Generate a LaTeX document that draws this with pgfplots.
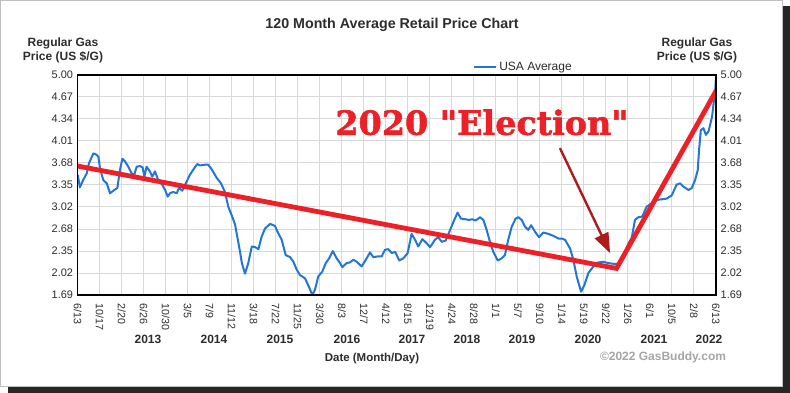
\documentclass[border=0pt]{standalone}
\usepackage{fontspec}
\setmainfont{Liberation Sans}
\newfontfamily\elecfont{DejaVu Serif}[BoldFeatures={FakeBold=1.6}]
\usepackage{pgfplots}
\usepackage{pgfplotstable}
\pgfplotsset{compat=1.18}
\usetikzlibrary{arrows.meta}
\definecolor{gbblue}{RGB}{36,118,212}
\definecolor{gbred}{RGB}{236,32,38}
\definecolor{arrowred}{RGB}{172,28,28}
\definecolor{gridgray}{RGB}{216,216,216}
\definecolor{txt}{RGB}{45,45,45}

\pgfplotstableread{
x y
0.00 3.50
0.10 3.31
0.25 3.42
0.41 3.52
0.51 3.67
0.71 3.82
0.86 3.80
0.94 3.77
1.01 3.60
1.16 3.42
1.32 3.37
1.47 3.22
1.62 3.26
1.80 3.30
1.92 3.57
2.03 3.74
2.15 3.70
2.30 3.62
2.45 3.52
2.57 3.50
2.68 3.62
2.83 3.63
2.95 3.61
3.03 3.47
3.13 3.62
3.28 3.55
3.39 3.47
3.51 3.55
3.66 3.42
3.84 3.35
3.97 3.27
4.09 3.17
4.19 3.22
4.34 3.24
4.50 3.22
4.60 3.30
4.75 3.26
4.91 3.37
5.10 3.50
5.30 3.60
5.43 3.66
5.56 3.64
5.78 3.65
5.93 3.65
6.09 3.58
6.32 3.45
6.51 3.37
6.69 3.24
6.84 3.02
7.02 2.87
7.15 2.75
7.26 2.55
7.37 2.35
7.46 2.17
7.60 2.01
7.75 2.17
7.91 2.42
8.06 2.41
8.21 2.38
8.36 2.57
8.51 2.69
8.74 2.76
8.96 2.73
9.11 2.62
9.27 2.52
9.45 2.29
9.65 2.26
9.80 2.19
9.95 2.07
10.10 1.99
10.33 1.94
10.51 1.81
10.66 1.69
10.78 1.77
10.93 1.97
11.11 2.04
11.27 2.17
11.42 2.24
11.59 2.35
11.77 2.24
11.92 2.17
12.02 2.11
12.22 2.17
12.37 2.18
12.52 2.22
12.68 2.19
12.90 2.12
13.09 2.22
13.28 2.33
13.43 2.26
13.63 2.27
13.81 2.27
13.96 2.37
14.11 2.38
14.27 2.32
14.42 2.34
14.61 2.21
14.79 2.24
14.99 2.32
15.17 2.61
15.33 2.52
15.47 2.42
15.66 2.53
15.82 2.48
16.01 2.41
16.23 2.52
16.38 2.56
16.54 2.49
16.72 2.51
16.92 2.67
17.11 2.82
17.26 2.93
17.41 2.84
17.60 2.83
17.78 2.82
17.93 2.83
18.08 2.81
18.28 2.86
18.43 2.82
18.58 2.67
18.73 2.49
18.88 2.34
19.08 2.21
19.26 2.24
19.41 2.29
19.56 2.52
19.72 2.72
19.90 2.84
20.02 2.86
20.17 2.82
20.32 2.72
20.47 2.67
20.60 2.74
20.78 2.64
20.96 2.56
21.15 2.63
21.38 2.61
21.61 2.58
21.84 2.54
22.00 2.54
22.14 2.52
22.37 2.39
22.52 2.22
22.67 1.97
22.87 1.74
23.02 1.84
23.20 2.02
23.43 2.12
23.65 2.18
23.88 2.19
24.11 2.17
24.33 2.16
24.55 2.16
24.82 2.25
25.00 2.45
25.17 2.55
25.32 2.82
25.47 2.86
25.65 2.87
25.85 3.02
26.08 3.07
26.31 3.12
26.53 3.13
26.76 3.14
26.99 3.19
27.21 3.35
27.37 3.37
27.52 3.32
27.75 3.27
27.90 3.30
28.05 3.42
28.17 3.57
28.23 3.87
28.31 4.17
28.43 4.20
28.54 4.10
28.66 4.15
28.82 4.37
28.89 4.57
28.97 4.80
29.00 4.98
}\gasdata

\pgfplotstableread{
x y
0.00 3.63
24.48 2.09
29.00 4.76
}\trenddata

\pgfplotsset{
  gbaxis/.style={
    at={(58.275pt,73.5pt)}, anchor=south west,
    width=478.725pt, height=165pt, scale only axis,
    xmin=0, xmax=29, ymin=1.69, ymax=5.00,
    ytick={1.69,2.02,2.35,2.68,3.02,3.35,3.68,4.01,4.34,4.67,5.00},
    yticklabels={1.69,2.02,2.35,2.68,3.02,3.35,3.68,4.01,4.34,4.67,5.00},
    major tick length=0pt,
    axis line style={black, line width=0.9pt},
    tick label style={font=\fontsize{8.2}{9}\selectfont, text=txt},
    /pgf/number format/assume math mode=true,
  }
}

\begin{document}
\begin{tikzpicture}
\useasboundingbox (0,0) rectangle (592.5pt,294.75pt);
\begin{scope}[x=0.75pt,y=-0.75pt,shift={(0pt,294.75pt)}]
  \fill[black!85] (8,6) rectangle (790,393);
  \filldraw[fill=white, draw=black!25, line width=0.5pt] (0.5,0.5) rectangle (782,386);
  \node[font=\bfseries\fontsize{10.7}{12}\selectfont, text=txt] at (392,25) {120 Month Average Retail Price Chart};
  \node[align=center, font=\bfseries\fontsize{9}{10.5}\selectfont, text=txt] at (63,50) {Regular Gas\\Price (US \$/G)};
  \node[align=center, font=\bfseries\fontsize{9}{10.5}\selectfont, text=txt] at (697,50) {Regular Gas\\Price (US \$/G)};
  \foreach \px/\yr in {148/2013,214/2014,280/2015,347/2016,412/2017,467/2018,522/2019,588/2020,654/2021,709/2022}
    \node[font=\bfseries\fontsize{9}{10}\selectfont, text=txt] at (\px,339) {\yr};
  \node[font=\bfseries\fontsize{8.6}{10}\selectfont, text=txt] at (372,359) {Date (Month/Day)};
  \node[font=\bfseries\fontsize{9}{10}\selectfont, text=black!35] at (663,357) {\textcopyright 2022 GasBuddy.com};
\end{scope}

\begin{axis}[gbaxis,
  xtick={0,...,29},
  xticklabels={6/13,10/17,2/20,6/26,10/30,3/5,7/9,11/12,3/18,7/22,11/25,3/30,8/3,12/7,4/12,8/15,12/19,4/24,8/28,1/1,5/7,9/10,1/14,5/19,9/22,1/26,6/1,10/5,2/8,6/13},
  xticklabel style={rotate=-90, anchor=west, font=\fontsize{8}{9}\selectfont, text=txt},
  xticklabel shift=3pt,
  grid=major, major grid style={gridgray, line width=0.75pt},
  legend style={at={(axis description cs:0.612,1.036)}, anchor=west, draw=none, fill=none,
    font=\fontsize{9}{10}\selectfont, text=txt},
  legend image code/.code={\draw[gbblue, line width=1.5pt] (0pt,0pt) -- (16.5pt,0pt);},
]
\addplot[gbblue, line width=1.5pt, line join=round] table[x=x,y=y] {\gasdata};
\addlegendentry{USA Average}
\addplot[gbred, line width=3.6pt, line join=miter, forget plot] table[x=x,y=y] {\trenddata};
\draw[arrowred, line width=1.8pt, -{Triangle[length=15pt,width=11pt]}] (axis cs:21.91,3.90) -- (axis cs:24.19,2.32);
\node[text=gbred, font=\elecfont\bfseries\fontsize{25}{27}\selectfont, anchor=base] at (axis cs:18.37,4.10) {2020 "Election"};
\end{axis}

\begin{axis}[gbaxis,
  xtick=\empty,
  yticklabel pos=right,
]
\end{axis}
\end{tikzpicture}
\end{document}
